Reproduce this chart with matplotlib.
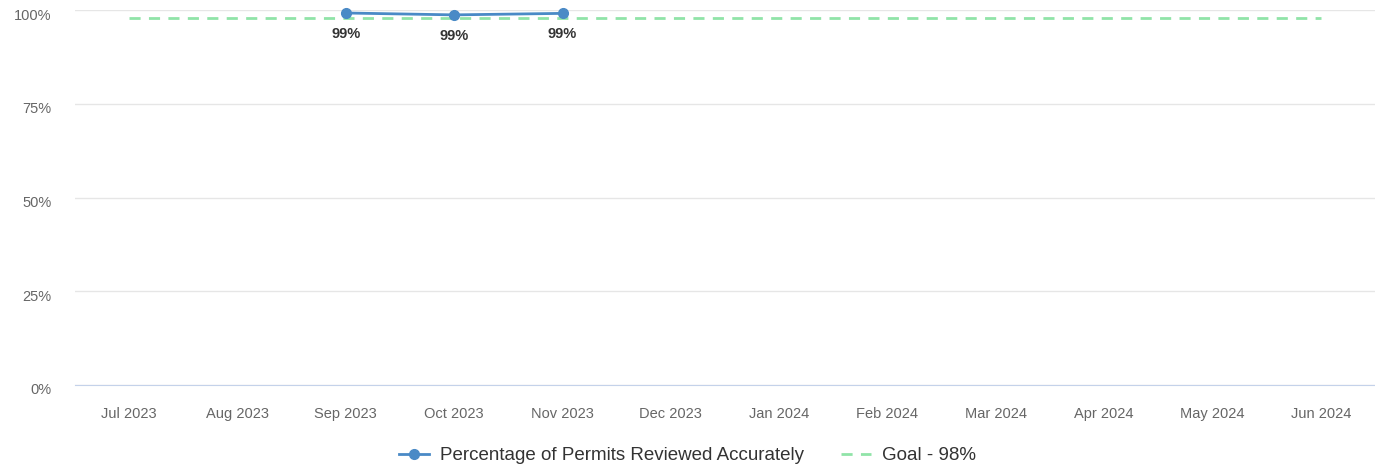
import numpy as np
import matplotlib.pyplot as plt
import matplotlib.transforms as mtransforms

plt.rcParams['font.family'] = ['Liberation Sans', 'DejaVu Sans']

months = ['Jul 2023', 'Aug 2023', 'Sep 2023', 'Oct 2023', 'Nov 2023', 'Dec 2023',
          'Jan 2024', 'Feb 2024', 'Mar 2024', 'Apr 2024', 'May 2024', 'Jun 2024']
accuracy = [np.nan, np.nan, 99.2, 98.7, 99.1, np.nan,
            np.nan, np.nan, np.nan, np.nan, np.nan, np.nan]
goal = [98] * 12

fig = plt.figure(figsize=(13.75, 4.67), dpi=100)
ax = fig.add_axes([75 / 1375, 1 - 385 / 467, 1 - 75 / 1375, 375 / 467])

x = np.arange(len(months))
ax.plot(x, goal, color='#90e4a8', linestyle=(0, (4, 3)), linewidth=2,
        label='Goal - 98%', zorder=2)
ax.plot(x, accuracy, color='#4a8ac6', linewidth=2, marker='o', markersize=7,
        label='Percentage of Permits Reviewed Accurately', zorder=3, clip_on=False)

# data labels under the points
for xi, v in zip(x, accuracy):
    if not np.isnan(v):
        ax.annotate(f'{v:.0f}%', (xi, v), xytext=(0, -10), textcoords='offset points',
                    ha='center', va='top', fontsize=10.5, fontweight='bold',
                    color='#333333')

ax.set_xlim(-0.5, len(months) - 0.5)
ax.set_ylim(0, 100)
ax.set_yticks([0, 25, 50, 75, 100])
ax.set_yticklabels(['0%', '25%', '50%', '75%', '100%'])
ax.set_xticks(x)
ax.set_xticklabels(months)
ax.tick_params(axis='both', length=0, labelsize=10.5, colors='#666666')
ax.tick_params(axis='y', pad=17)
ax.tick_params(axis='x', pad=16)

# y labels sit a little below their grid lines
shift = mtransforms.ScaledTranslation(0, -4 / 100, fig.dpi_scale_trans)
for lbl in ax.get_yticklabels():
    lbl.set_transform(lbl.get_transform() + shift)

ax.grid(axis='y', color='#e6e6e6', linewidth=1)
ax.set_axisbelow(True)
for s in ['top', 'right', 'left']:
    ax.spines[s].set_visible(False)
ax.spines['bottom'].set_color('#c4d2ea')

handles, labels = ax.get_legend_handles_labels()
leg = fig.legend(handles[::-1], labels[::-1], loc='lower center', ncol=2,
                 bbox_to_anchor=(0.5, -0.03), frameon=False, fontsize=13.5,
                 handlelength=1.6, columnspacing=2.0, handletextpad=0.6)
for t in leg.get_texts():
    t.set_color('#333333')

fig.savefig('out.png', dpi=100)
